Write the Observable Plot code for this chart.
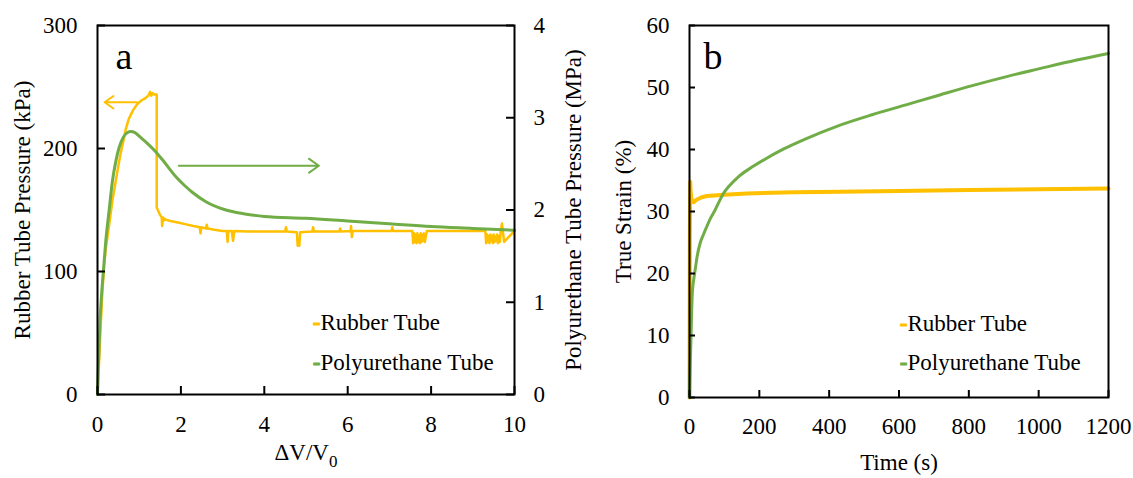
<!DOCTYPE html>
<html><head><meta charset="utf-8">
<script src="https://cdn.jsdelivr.net/npm/d3@7"></script>
<script src="https://cdn.jsdelivr.net/npm/@observablehq/plot@0.6"></script>
<style>
html,body{margin:0;padding:0;background:#fff;}
#wrap{display:flex;width:1133px;height:478px;overflow:hidden;}
#wrap svg{display:block;}
#wrap svg, #wrap svg text, #wrap svg tspan{font-family:"Liberation Serif","Times New Roman",serif !important;}
</style></head><body><div id="wrap"></div>
<script>
// ---------- Panel a data ----------
const rubberX = [0,0.04,0.08,0.12,0.16,0.2,0.24,0.3,0.36,0.44,0.5,0.56,0.62,0.68,0.75,0.85,0.95,1.05,1.15,1.22,1.26,1.29,1.32,1.36,1.42,1.42,1.46,1.5,1.54,1.55,1.57,1.58,1.6,1.65,1.75,1.9,2.1,2.3,2.45,2.47,2.49,2.6,2.62,2.64,2.8,3.0,3.1,3.12,3.14,3.22,3.25,3.28,3.6,4.2,4.5,4.52,4.54,4.78,4.8,4.82,4.84,4.86,5.15,5.17,5.19,5.8,5.82,5.84,6.07,6.08,6.1,6.12,7.05,7.07,7.09,7.55,7.57,7.59,7.61,7.63,7.65,7.67,7.69,7.71,7.73,7.75,7.77,7.79,7.81,7.83,7.85,7.87,7.9,9.3,9.32,9.34,9.36,9.38,9.4,9.42,9.44,9.46,9.48,9.5,9.52,9.54,9.56,9.58,9.6,9.62,9.65,9.67,9.7,9.72,9.75,10];
const rubberKPa = [0,28,58,85,105,119,128,143,158,174,186,197,206,216,224,231,236,239,241,243,246,243,245,244,244,152,149,146,144,137,144,141,143,142,141,140,138.5,137,136,131,136,135,138,135,134,133,133,124,133,133,125,133,132.5,132.5,132.5,136,132.5,132,121,126,121,132,132.5,136,132.5,132.5,135,132.5,133,137,128,133,133,136,133,133,123,131,124,130,123,131,124,129,123,131,124,130,125,131,124,128,133,133,123,130,124,129,123,130,125,129,123,130,124,128,125,130,123,129,124,133,139,133,124,133,133.5];
const puX = [0,0.02,0.06,0.1,0.14,0.2,0.28,0.36,0.44,0.52,0.62,0.72,0.8,0.9,1.0,1.2,1.4,1.6,1.88,2.1,2.28,2.6,3.08,3.5,4,5,6,7,8,9,10];
const puMPa = [0,0.3,0.8,1.1,1.33,1.67,2.0,2.32,2.53,2.68,2.79,2.84,2.85,2.84,2.8,2.72,2.63,2.52,2.36,2.26,2.19,2.09,2.0,1.96,1.93,1.91,1.88,1.85,1.82,1.8,1.78];
const aXTicks = [0,2,4,6,8,10];
const aLeftTicks = [0,100,200,300];
const aRightTicks = [0,1,2,3,4];
const aLeftDomain = [0,300];
const aRightDomain = [0,4];
// annotation arrows: [fromX, toX, y]
const rubberArrow = [0.95, 0.17, 237.6];   // y in kPa
const puArrow = [1.95, 5.31, 2.48];        // y in MPa

// ---------- Panel b data ----------
const rubberT = [0,0.5,1,2,3,5,8,12,20,35,50,100,164,300,430,600,800,1000,1200];
const rubberStrain = [0,12,26,34.8,33.5,32.2,31.6,31.5,31.9,32.3,32.5,32.7,32.9,33.1,33.2,33.3,33.45,33.6,33.7];
const puT = [0,2,4,6,8,12,16,22,30,40,49,60,73,85,97,115,140,180,221,270,328,420,523,620,717,810,911,1000,1106,1200];
const puStrain = [0,5,9,13.5,16.8,19,20.5,22.8,24.8,26.3,27.5,28.9,30.2,31.6,32.9,34.2,35.6,37.2,38.6,40.1,41.6,43.7,45.6,47.2,48.8,50.3,51.8,53.0,54.4,55.5];
const bXTicks = [0,200,400,600,800,1000,1200];
const bYTicks = [0,10,20,30,40,50,60];

const seriesNames = ["Rubber Tube", "Polyurethane Tube"];
const ORANGE = "#FFC000", GREEN = "#70AD47";
const FONT = "'Liberation Serif', 'Times New Roman', serif";

const ratio = aLeftDomain[1] / aRightDomain[1];
const rubberA = rubberX.map((x, i) => ({x, y: rubberKPa[i]}));
const puA = puX.map((x, i) => ({x, y: puMPa[i] * ratio}));
const rubberB = rubberT.map((x, i) => ({x, y: rubberStrain[i]}));
const puB = puT.map((x, i) => ({x, y: puStrain[i]}));

// layout
const A = {width: 590, height: 478, marginLeft: 97, marginRight: 76, marginTop: 25, marginBottom: 84};
const B = {width: 543, height: 478, marginLeft: 99, marginRight: 25, marginTop: 25, marginBottom: 81};
const fw = L => L.width - L.marginLeft - L.marginRight;
const fh = L => L.height - L.marginTop - L.marginBottom;

// inward tick marks as short rules
function ticksBottom(values, L, len) {
  return Plot.ruleX(values, {x: d => d, insetTop: fh(L) - len, stroke: "black", strokeWidth: 2});
}
function ticksSide(values, L, side, len) {
  const o = side === "left" ? {insetRight: fw(L) - len} : {insetLeft: fw(L) - len};
  return Plot.ruleY(values, {y: d => d, ...o, stroke: "black", strokeWidth: 2});
}

function legend(dxText, dyFirst, gap) {
  const marks = [];
  seriesNames.forEach((name, i) => {
    const c = i === 0 ? ORANGE : GREEN;
    marks.push(Plot.text(["-"], {text: d => d, frameAnchor: "top-left", dx: dxText, dy: dyFirst + i * gap, textAnchor: "end", lineAnchor: "middle", fill: c, stroke: c, strokeWidth: 1, fontWeight: "bold", fontSize: 23, fontFamily: FONT}));
    marks.push(Plot.text([name], {text: d => d, frameAnchor: "top-left", dx: dxText, dy: dyFirst + i * gap, textAnchor: "start", lineAnchor: "middle", fontSize: 23, fontFamily: FONT}));
  });
  return marks;
}

const baseStyle = {fontFamily: FONT, fontSize: "23px", color: "black", background: "white", overflow: "visible"};

const plotA = Plot.plot({
  ...A,
  x: {domain: [aXTicks[0], aXTicks[aXTicks.length - 1]]},
  y: {domain: aLeftDomain},
  style: baseStyle,
  marks: [
    Plot.line(rubberA, {x: "x", y: "y", stroke: ORANGE, strokeWidth: 2.5}),
    Plot.line(puA, {x: "x", y: "y", stroke: GREEN, strokeWidth: 3, curve: "monotone-x"}),
    Plot.arrow([rubberArrow], {x1: d => d[0], x2: d => d[1], y1: d => d[2], y2: d => d[2], stroke: ORANGE, strokeWidth: 2, headLength: 9, headAngle: 70}),
    Plot.arrow([puArrow], {x1: d => d[0], x2: d => d[1], y1: d => d[2] * ratio, y2: d => d[2] * ratio, stroke: GREEN, strokeWidth: 2, headLength: 9, headAngle: 70}),
    Plot.frame({stroke: "black", strokeWidth: 2}),
    ticksBottom(aXTicks, A, 8),
    ticksSide(aLeftTicks, A, "left", 8),
    ticksSide(aRightTicks.map(d => d * ratio), A, "right", 8),
    Plot.axisX({ticks: aXTicks, tickSize: 0, tickPadding: 21, label: null, tickFormat: d => String(d), fontFamily: FONT}),
    Plot.axisY({anchor: "left", ticks: aLeftTicks, tickSize: 0, tickPadding: 20, label: null, tickFormat: d => String(d), fontFamily: FONT}),
    Plot.text(aRightTicks, {y: d => d * ratio, text: d => String(d), frameAnchor: "right", dx: 19, textAnchor: "start", lineAnchor: "middle", fontSize: 23, fontFamily: FONT}),
    Plot.text(["a"], {text: d => d, frameAnchor: "top-left", dx: 18, dy: 17, lineAnchor: "top", textAnchor: "start", fontSize: 38, fontFamily: FONT}),
    Plot.text(["Rubber Tube Pressure (kPa)"], {text: d => d, frameAnchor: "left", dx: -75, rotate: -90, textAnchor: "middle", lineAnchor: "middle", fontSize: 23, fontFamily: FONT}),
    Plot.text(["Polyurethane Tube Pressure (MPa)"], {text: d => d, frameAnchor: "right", dx: 59, rotate: -90, textAnchor: "middle", lineAnchor: "middle", fontSize: 23, fontFamily: FONT}),
    Plot.text(["ΔV/V0"], {text: d => d, frameAnchor: "bottom", dy: 58, textAnchor: "middle", lineAnchor: "middle", fontSize: 23, fontFamily: FONT}),
    ...legend(223, 297, 40)
  ]
});

const plotB = Plot.plot({
  ...B,
  x: {domain: [bXTicks[0], bXTicks[bXTicks.length - 1]]},
  y: {domain: [bYTicks[0], bYTicks[bYTicks.length - 1]]},
  style: baseStyle,
  marks: [
    Plot.line(rubberB, {x: "x", y: "y", stroke: ORANGE, strokeWidth: 4}),
    Plot.line(puB, {x: "x", y: "y", stroke: GREEN, strokeWidth: 3, curve: "monotone-x"}),
    Plot.frame({stroke: "black", strokeWidth: 2}),
    ticksBottom(bXTicks, B, 7),
    ticksSide(bYTicks, B, "left", 6),
    Plot.axisX({ticks: bXTicks, tickSize: 0, tickPadding: 20, label: null, tickFormat: d => String(d), fontFamily: FONT}),
    Plot.axisY({anchor: "left", ticks: bYTicks, tickSize: 0, tickPadding: 20, label: null, tickFormat: d => String(d), fontFamily: FONT}),
    Plot.text(["b"], {text: d => d, frameAnchor: "top-left", dx: 14, dy: 17, lineAnchor: "top", textAnchor: "start", fontSize: 38, fontFamily: FONT}),
    Plot.text(["True Strain (%)"], {text: d => d, frameAnchor: "left", dx: -66, rotate: -90, textAnchor: "middle", lineAnchor: "middle", fontSize: 23, fontFamily: FONT}),
    Plot.text(["Time (s)"], {text: d => d, frameAnchor: "bottom", dy: 65, textAnchor: "middle", lineAnchor: "middle", fontSize: 23, fontFamily: FONT}),
    ...legend(218, 298, 39)
  ]
});

const wrap = document.getElementById("wrap");
wrap.appendChild(plotA);
wrap.appendChild(plotB);

// subscript for ΔV/V0
plotA.querySelectorAll("text").forEach(t => {
  if (t.textContent === "ΔV/V0") {
    t.textContent = "ΔV/V";
    const ts = document.createElementNS("http://www.w3.org/2000/svg", "tspan");
    ts.setAttribute("dy", "7");
    ts.setAttribute("font-size", "17");
    ts.textContent = "0";
    t.appendChild(ts);
  }
});
</script>
</body></html>
